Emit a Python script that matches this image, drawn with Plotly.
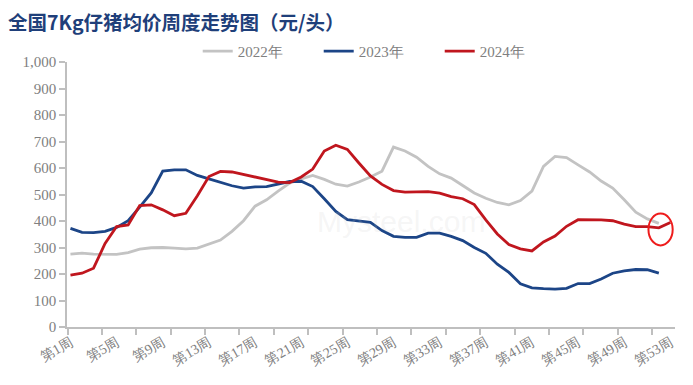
import plotly.graph_objects as go

# ---- data ----
weeks_2022 = list(range(1, 53))
price_2022 = [275, 279, 275, 274, 274, 281, 294, 299, 300, 298, 295, 298, 313, 328,
              361, 401, 456, 480, 513, 543, 559, 572, 557, 539, 532, 547, 566, 588,
              679, 664, 641, 606, 578, 562, 534, 506, 486, 470, 461, 477, 513, 606,
              644, 639, 612, 585, 551, 524, 480, 433, 408, 391]

weeks_2023 = list(range(1, 53))
price_2023 = [372, 357, 356, 361, 376, 401, 452, 506, 588, 593, 593, 572, 559, 545,
              533, 524, 529, 530, 540, 549, 550, 530, 484, 436, 405, 399, 395, 364,
              342, 338, 338, 354, 354, 342, 326, 300, 278, 237, 206, 163, 148, 145,
              143, 146, 164, 164, 181, 203, 212, 217, 216, 203]

weeks_2024 = list(range(1, 54))
price_2024 = [196, 203, 222, 315, 379, 385, 458, 461, 442, 420, 429, 495, 568, 587,
              585, 576, 566, 556, 547, 545, 566, 596, 664, 686, 670, 619, 570, 538,
              515, 509, 511, 511, 505, 492, 484, 462, 404, 351, 311, 295, 287, 321,
              343, 380, 405, 405, 404, 401, 388, 379, 379, 374, 394]

series_names = ["2022年", "2023年", "2024年"]
tick_weeks = list(range(1, 54, 4))
tick_labels = [f"第{w}周" for w in tick_weeks]

title_text = "全国7Kg仔猪均价周度走势图（元/头）"
watermark = "Mysteel.com"

# ---- figure ----
serif = "Liberation Serif"
gray_txt = "#808080"
axis_col = "#bfbfbf"

fig = go.Figure()
for name, xs, ys, col in [
    (series_names[0], weeks_2022, price_2022, "#c3c3c3"),
    (series_names[1], weeks_2023, price_2023, "#1c4587"),
    (series_names[2], weeks_2024, price_2024, "#c0161e"),
]:
    fig.add_trace(go.Scatter(x=xs, y=ys, name=name, mode="lines",
                             line=dict(color=col, width=2.8)))

fig.update_layout(
    width=693, height=385,
    margin=dict(l=59, r=26, t=54, b=66),
    paper_bgcolor="white", plot_bgcolor="white",
    showlegend=True,
    legend=dict(orientation="h", x=0.215, xanchor="left", y=1.04, yanchor="middle",
                font=dict(family=serif, size=15, color=gray_txt),
                bgcolor="rgba(0,0,0,0)", entrywidth=76, traceorder="normal"),
)
fig.add_annotation(text="<b>" + title_text + "</b>", xref="paper", yref="paper",
                   x=-61 / 608, y=1 + (54 - 13) / 265, xanchor="left", yanchor="middle",
                   showarrow=False,
                   font=dict(family="Noto Sans CJK SC", size=19.5, color="#1f3f7a"))
fig.add_annotation(text=watermark, xref="paper", yref="paper",
                   x=0.55, y=0.4, showarrow=False,
                   font=dict(family="Arial", size=30, color="rgba(200,200,200,0.18)"))

fig.update_xaxes(
    range=[0.7, 53.4],
    tickmode="array", tickvals=tick_weeks, ticktext=tick_labels,
    tickangle=-30, ticks="", showgrid=False, zeroline=False,
    showline=True, linecolor=axis_col, linewidth=1.5,
    tickfont=dict(family=serif, size=14, color=gray_txt),
    minor=dict(ticks="outside", tick0=0.75, dtick=2.98, ticklen=6,
               tickcolor=axis_col, tickwidth=1.5, showgrid=False),
)
fig.update_yaxes(
    range=[0, 1000], dtick=100, tickformat=",",
    ticks="outside", ticklen=6, tickcolor=axis_col, tickwidth=1.5,
    showline=True, linecolor=axis_col, linewidth=1.5,
    showgrid=False, zeroline=False,
    tickfont=dict(family=serif, size=15, color=gray_txt),
)

# red ellipse highlight around the latest point
fig.add_shape(type="circle", xref="x", yref="y",
              x0=51.1, x1=53.2, y0=308, y1=428,
              line=dict(color="#ee1c1c", width=2), fillcolor="rgba(0,0,0,0)")

fig.write_html("out.html")
